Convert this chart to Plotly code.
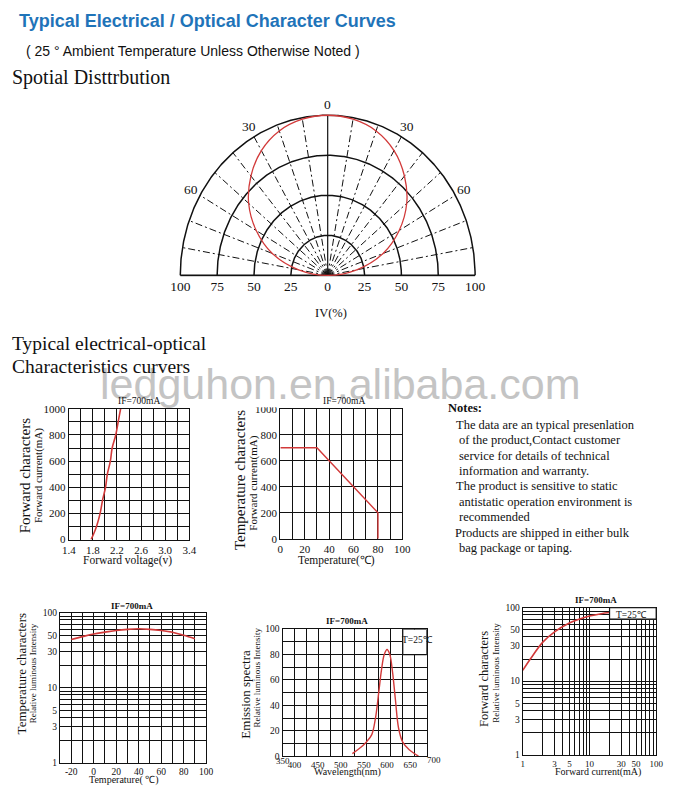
import numpy as np
import plotly.graph_objects as go

W, H = 673, 794
SERIF = "Liberation Serif, Times New Roman, serif"
SANS = "Liberation Sans, Arial, sans-serif"
INK = "#111111"
RED = "#d23a3a"

# ---------------- data ----------------
# Spatial distribution (angle from axis in degrees, relative intensity %)
polar_angles = [-90, -80, -70, -60, -50, -40, -30, -20, -10, 0, 10, 20, 30, 40, 50, 60, 70, 80, 90]
polar_iv = [0, 20, 40, 56, 70, 81, 90, 96, 99, 100, 99, 96, 90, 81, 70, 56, 40, 20, 0]
polar_rings = [25, 50, 75, 100]
polar_spokes = [-80, -70, -60, -50, -40, -30, -20, -10, 10, 20, 30, 40, 50, 60, 70, 80]
polar_tick_vals = [-100, -75, -50, -25, 0, 25, 50, 75, 100]
polar_tick_text = ["100", "75", "50", "25", "0", "25", "50", "75", "100"]
polar_angle_marks = [0, -30, 30, -60, 60]
polar_angle_text = ["0", "30", "30", "60", "60"]

# Forward characters: voltage (V) vs current (mA)
fwd_voltage = [1.77, 1.81, 1.86, 1.92, 1.96, 2.01, 2.04, 2.09, 2.12, 2.18, 2.22, 2.26]
fwd_current = [0, 40, 100, 200, 300, 400, 500, 600, 700, 800, 900, 1000]
fwd_xticks = [1.4, 1.6, 1.8, 2.0, 2.2, 2.4, 2.6, 2.8, 3.0, 3.2, 3.4]
fwd_xtext = ["1.4", "", "1.8", "", "2.2", "", "2.6", "", "3.0", "", "3.4"]
fwd_yticks = [0, 100, 200, 300, 400, 500, 600, 700, 800, 900, 1000]
fwd_ytext = ["0", "", "200", "", "400", "", "600", "", "800", "", "1000"]

# Temperature derating: temperature (C) vs forward current (mA)
derate_temp = [0, 30, 80, 80]
derate_current = [700, 700, 200, 0]
derate_xticks = [0, 10, 20, 30, 40, 50, 60, 70, 80, 90, 100]
derate_xtext = ["0", "", "20", "", "40", "", "60", "", "80", "", "100"]
derate_yticks = [0, 200, 400, 600, 800, 1000]

# Temperature vs relative luminous intensity
lum_temp = [-20, -10, 0, 10, 20, 30, 40, 50, 60, 70, 80, 90]
lum_rel = [44, 48, 52, 55, 58, 60, 61, 60, 58, 55, 50, 45]
lum_xticks = [-30, -20, -10, 0, 10, 20, 30, 40, 50, 60, 70, 80, 90, 100]
lum_xtext = ["", "-20", "", "0", "", "20", "", "40", "", "60", "", "80", "", "100"]

# Log grid values (1..100) and labels
log_ticks = [1, 2, 3, 4, 5, 6, 7, 8, 9, 10, 20, 30, 40, 50, 60, 70, 80, 90, 100]
log_text = ["1", "", "3", "", "5", "", "", "", "", "10", "", "30", "", "50", "", "", "", "", "100"]

# Emission spectra: wavelength (nm) vs relative intensity
spec_wl = [525, 540, 555, 567, 575, 582, 588, 594, 600, 606, 612, 618, 625, 634, 648, 668]
spec_int = [2, 6, 11, 17, 30, 50, 68, 80, 84, 80, 66, 45, 22, 11, 5, 0]
spec_grid = [374, 400, 426, 452, 478, 504, 530, 556, 582, 608, 634, 660, 686]
spec_xticks = [400, 450, 500, 550, 600, 650]
spec_yticks = [0, 10, 20, 30, 40, 50, 60, 70, 80, 90, 100]
spec_ytext = ["0", "", "20", "", "40", "", "60", "", "80", "", "100"]

# Forward current vs relative luminous intensity
if_current = [1, 1.3, 2, 3, 5, 7, 10, 15, 20]
if_rel = [14, 20, 34, 47, 62, 70, 77, 83, 86]

notes_lines = [
    "The data are an typical presenlation",
    "of the product,Contact customer",
    "service for details of technical",
    "information and warranty.",
    "The product is sensitive to static",
    "antistatic operation environment is",
    "recommended",
    "Products are shipped in either bulk",
    "bag package or taping.",
]
notes_indent = [458, 461, 461, 461, 458, 461, 461, 457, 461]


# ---------------- helpers ----------------
def fx(px):
    return px / W


def fy(py):
    return 1 - py / H


annotations = []


def txt(x, y, text, size, family=SERIF, color=INK, xanchor="center", yanchor="middle", angle=0, bold=False):
    if bold:
        text = "<b>" + text + "</b>"
    annotations.append(dict(
        x=fx(x), y=fy(y), xref="paper", yref="paper", text=text, showarrow=False,
        xanchor=xanchor, yanchor=yanchor, textangle=angle,
        font=dict(family=family, size=size, color=color)))


def grid_axis(**kw):
    d = dict(showline=True, linecolor=INK, linewidth=1.4, mirror=True,
             showgrid=True, gridcolor=INK, gridwidth=1.2, zeroline=False,
             ticks="", tickmode="array", fixedrange=True,
             tickfont=dict(family=SERIF, size=11, color=INK))
    d.update(kw)
    return d


fig = go.Figure()

# ---------------- polar (spatial distribution) ----------------
cx_px, base_px = 328.5, 273.5
sx, sy = 1.51, 1.626  # px per unit
xr = (-104, 104)
yr = (-0.8, 106)
polar_dom_x = [fx(cx_px + xr[0] * sx), fx(cx_px + xr[1] * sx)]
polar_dom_y = [fy(base_px - yr[0] * sy), fy(base_px - yr[1] * sy)]

th = np.radians(np.linspace(-90, 90, 361))
for r in polar_rings:
    fig.add_trace(go.Scatter(x=r * np.sin(th), y=r * np.cos(th), mode="lines",
                             line=dict(color=INK, width=1.5), hoverinfo="skip",
                             xaxis="x", yaxis="y"))
for a in polar_spokes:
    ar = np.radians(a)
    fig.add_trace(go.Scatter(x=[0, 100 * np.sin(ar)], y=[0, 100 * np.cos(ar)], mode="lines",
                             line=dict(color=INK, width=1, dash="7px,3px,2px,3px"),
                             hoverinfo="skip", xaxis="x", yaxis="y"))
fig.add_trace(go.Scatter(x=[0, 0], y=[0, 100], mode="lines", line=dict(color=INK, width=1.2),
                         hoverinfo="skip", xaxis="x", yaxis="y"))
fig.add_trace(go.Scatter(x=[-100, 100], y=[0, 0], mode="lines", line=dict(color=INK, width=1.6),
                         hoverinfo="skip", xaxis="x", yaxis="y"))
pa = np.radians(polar_angles)
fig.add_trace(go.Scatter(x=np.array(polar_iv) * np.sin(pa), y=np.array(polar_iv) * np.cos(pa),
                         mode="lines", line=dict(color=RED, width=1.3, shape="spline"),
                         hoverinfo="skip", xaxis="x", yaxis="y"))
for a, t in zip(polar_angle_marks, polar_angle_text):
    ar = np.radians(a)
    txt(cx_px + 107 * np.sin(ar) * sx, base_px - 107 * np.cos(ar) * sy, t, 13.5)

# ---------------- small charts ----------------
fig.add_trace(go.Scatter(x=fwd_voltage, y=fwd_current, mode="lines",
                         line=dict(color=RED, width=1.6, shape="spline"), xaxis="x2", yaxis="y2"))
fig.add_trace(go.Scatter(x=derate_temp, y=derate_current, mode="lines",
                         line=dict(color=RED, width=1.4), xaxis="x3", yaxis="y3"))
fig.add_trace(go.Scatter(x=lum_temp, y=lum_rel, mode="lines",
                         line=dict(color=RED, width=1.6, shape="spline"), xaxis="x4", yaxis="y4"))
fig.add_trace(go.Scatter(x=spec_wl, y=spec_int, mode="lines",
                         line=dict(color=RED, width=1.4, shape="spline"), xaxis="x5", yaxis="y5"))
fig.add_trace(go.Scatter(x=if_current, y=if_rel, mode="lines",
                         line=dict(color=RED, width=1.6, shape="spline"), xaxis="x6", yaxis="y6"))

small_font = dict(family=SERIF, size=9.5, color=INK)
tiny_font = dict(family=SERIF, size=9, color=INK)

layout = dict(
    width=W, height=H, margin=dict(l=0, r=0, t=0, b=0),
    paper_bgcolor="white", plot_bgcolor="white", showlegend=False,
    xaxis=dict(domain=polar_dom_x, range=list(xr), anchor="y", showgrid=False, zeroline=False,
               showline=False, ticks="", tickmode="array", tickvals=polar_tick_vals,
               ticktext=polar_tick_text, tickfont=dict(family=SERIF, size=13.5, color=INK),
               fixedrange=True),
    yaxis=dict(domain=polar_dom_y, range=list(yr), anchor="x", visible=False, fixedrange=True),

    xaxis2=grid_axis(domain=[fx(63.3), fx(186.7)], range=[1.4, 3.4], anchor="y2",
                     tickvals=fwd_xticks, ticktext=fwd_xtext),
    yaxis2=grid_axis(domain=[fy(541.7), fy(409)], range=[0, 1000], anchor="x2",
                     tickvals=fwd_yticks, ticktext=fwd_ytext),

    xaxis3=grid_axis(domain=[fx(280), fx(405)], range=[0, 100], anchor="y3",
                     tickvals=derate_xticks, ticktext=derate_xtext),
    yaxis3=grid_axis(domain=[fy(541), fy(409)], range=[0, 1000], anchor="x3",
                     tickvals=derate_yticks),

    xaxis4=grid_axis(domain=[fx(54.3), fx(204)], range=[-30, 100], anchor="y4",
                     tickvals=lum_xticks, ticktext=lum_xtext, tickfont=small_font),
    yaxis4=grid_axis(domain=[fy(768.3), fy(616)], type="log", range=[0, 2], anchor="x4",
                     tickvals=log_ticks, ticktext=log_text, tickfont=small_font),

    xaxis5=grid_axis(domain=[fx(282.3), fx(430)], range=[374, 686], anchor="y5", showgrid=False,
                     tickvals=spec_xticks, tickfont=tiny_font,
                     minor=dict(tickmode="array", tickvals=spec_grid, showgrid=True,
                                gridcolor=INK, gridwidth=1.2, ticks="")),
    yaxis5=grid_axis(domain=[fy(761.7), fy(632.7)], range=[0, 100], anchor="x5",
                     tickvals=spec_yticks, ticktext=spec_ytext, tickfont=small_font),

    xaxis6=grid_axis(domain=[fx(528.3), fx(665)], type="log", range=[0, 2], anchor="y6",
                     tickvals=log_ticks, ticktext=log_text, tickfont=tiny_font),
    yaxis6=grid_axis(domain=[fy(760), fy(611)], type="log", range=[0, 2], anchor="x6",
                     tickvals=log_ticks, ticktext=log_text, tickfont=small_font),
)

shapes = [
    dict(type="rect", xref="x5", yref="y5", x0=634, x1=686, y0=80, y1=100,
         fillcolor="white", line=dict(color=INK, width=1.2), layer="above"),
    dict(type="rect", xref="x6", yref="y6", x0=20, x1=100, y0=70, y1=100,
         fillcolor="white", line=dict(color=INK, width=1.2), layer="above"),
    # the watermark's descenders are cut off in the source
    dict(type="rect", xref="paper", yref="paper", x0=fx(85), x1=fx(600), y0=fy(407.5), y1=fy(398.5),
         fillcolor="white", line=dict(width=0), layer="above"),
]

# ---------------- text ----------------
txt(10, 15, "Typical Electrical / Optical Character Curves", 18, family=SANS, color="#1f74b9",
    xanchor="left", bold=True)
txt(17, 46, "( 25 \u00b0 Ambient Temperature Unless Otherwise Noted )", 14, family=SANS, xanchor="left")
txt(3, 73, "Spotial Disttrbution", 20, xanchor="left")
txt(332, 312, "IV(%)", 12.5)
txt(3, 343, "Typical electrical-optical", 19.5, xanchor="left")
txt(3, 366, "Characteristics curvers", 19.5, xanchor="left")

# watermark
annotations.insert(0, dict(x=fx(342), y=fy(384), xref="paper", yref="paper",
                           text="ledguhon.en.alibaba.com", showarrow=False,
                           font=dict(family=SANS, size=43, color="#c4c4c4")))

# chart 1
txt(135, 401, "IF=700mA", 9.5)
txt(18, 477, "Forward characters", 15, angle=-90)
txt(33, 477, "Forward current(mA)", 11, angle=-90)
txt(123, 563, "Forward voltage(v)", 11.5)
# chart 2
txt(345, 401, "IF=700mA", 9.5)
txt(238, 481, "Temperature characters", 15, angle=-90)
txt(253, 484, "Forward current(mA)", 11, angle=-90)
txt(338, 563, "Temperature(\u2103)", 11.5)
# notes
txt(450, 408, "Notes:", 12.5, xanchor="left", bold=True)
for i, (line, ix) in enumerate(zip(notes_lines, notes_indent)):
    txt(ix, 425 + i * 15.7, line, 12.5, xanchor="left")
# chart 3
txt(128, 609, "IF=700mA", 9, bold=True)
txt(15, 678, "Temperature characters", 13, angle=-90)
txt(26, 677, "Relative luminous Intensity", 9, angle=-90)
txt(120, 786, "Temperature( \u2103)", 10)
# chart 4
txt(348, 624, "IF=700mA", 9, bold=True)
txt(244, 699, "Emission spectra", 13, angle=-90)
txt(256, 682, "Relative luminous Intensity", 9, angle=-90)
txt(349, 778, "Wavelength(nm)", 10)
txt(420, 644, "T=25\u2103", 9.5)
txt(283, 767, "350", 9)
txt(437, 766, "700", 9)
# chart 5
txt(603, 603, "IF=700mA", 9, bold=True)
txt(488, 683, "Forward characters", 12.5, angle=-90)
txt(501, 677, "Relative luminous Intensity", 9, angle=-90)
txt(605, 778, "Forward current(mA)", 10)
txt(640, 618, "T=25\u2103", 9.5)

layout["annotations"] = annotations
layout["shapes"] = shapes
fig.update_layout(**layout)
fig.write_html("out.html",
               post_script="document.body.style.margin='0';document.body.style.overflow='hidden';")
